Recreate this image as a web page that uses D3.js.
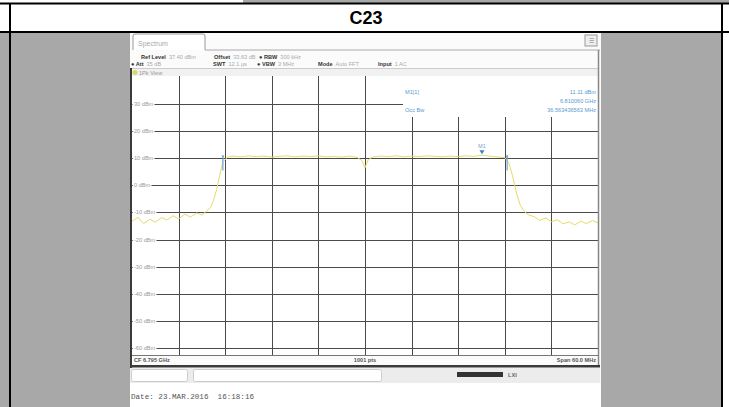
<!DOCTYPE html>
<html><head><meta charset="utf-8">
<script src="https://cdn.jsdelivr.net/npm/d3@7"></script>
<style>body{margin:0;background:#fff}svg{display:block}</style>
</head><body>
<svg id="c" width="729" height="407"></svg>
<script>
// ---- data ----
const title = "C23";
const centerGHz = 6.795;
const spanMHz = 60;
const refLevel = 37.4;
const yTickValues = [30, 20, 10, 0, -10, -20, -30, -40, -50, -60];
const yTickLabels = ["30 dBm", "20 dBm", "10 dBm", "0 dBm", "-10 dBm", "-20 dBm", "-30 dBm", "-40 dBm", "-50 dBm", "-60 dBm"];
const xGridMHz = [6, 12, 18, 24, 30, 36, 42, 48, 54];
const traceMHz = [0,0.8,1.5,2.3,3.0,3.8,4.5,5.3,6.0,6.8,7.5,8.3,9.0,9.6,10.1,10.5,10.9,11.3,11.7,12.3,13,14,15,16,17,18,19,20,21,22,23,24,25,26,27,28,29,29.6,30,30.4,31,32,33,34,35,36,37,38,39,40,41,42,43,44,45,46,47,48,48.5,49,49.5,50,50.5,51,51.8,52.5,53.3,54,54.8,55.5,56.3,57,57.8,58.5,59.3,60];
const traceDbm = [-13.2,-11.8,-14.1,-12.5,-13.6,-11.9,-12.8,-11.2,-12.4,-10.6,-11.7,-10.2,-10.9,-9.5,-8.2,-5.5,-1.5,3.8,8.6,10.4,10.8,10.5,10.9,10.6,10.8,10.4,10.7,10.9,10.5,10.8,10.6,10.9,10.5,10.7,10.4,10.8,10.3,9.2,6.5,9.4,10.5,10.8,10.6,10.9,10.5,10.8,10.6,10.9,10.7,10.5,10.8,10.6,10.9,10.7,11.1,10.8,10.5,10.2,8.4,3.5,-2.8,-7.4,-9.6,-10.8,-11.6,-12.9,-12.1,-13.4,-12.7,-14.2,-13.5,-14.6,-13.2,-14.1,-13.0,-13.8];
const markerMHz = 45.06, markerDbm = 11.11;
const obwMHz = [11.7, 48.3];
const headerRow1 = [["Ref Level", "37.40 dBm"], ["Offset", "33.63 dB"], ["\u25CF RBW", "300 kHz"]];
const headerRow2 = [["\u25CF Att", "35 dB"], ["SWT", "12.1 \u00B5s"], ["\u25CF VBW", "3 MHz"], ["Mode", "Auto FFT"], ["Input", "1 AC"]];
const markerLines = [["M1[1]", "11.11 dBm"], ["", "6.810060 GHz"], ["Occ Bw", "36.563436563 MHz"]];
const dateText = "Date: 23.MAR.2016  16:18:16";

// ---- drawing ----
const svg = d3.select("#c");
const sans = "Liberation Sans, Arial, sans-serif";

// outer table
svg.append("rect").attr("x", 243).attr("y", 0).attr("width", 486).attr("height", 3).attr("fill", "#a8a8a8");
svg.append("rect").attr("x", 0).attr("y", 33).attr("width", 722).attr("height", 374).attr("fill", "#a8a8a8");
svg.append("rect").attr("x", 0).attr("y", 2.5).attr("width", 729).attr("height", 2).attr("fill", "#000");
svg.append("rect").attr("x", 0).attr("y", 31).attr("width", 729).attr("height", 2).attr("fill", "#000");
svg.append("rect").attr("x", 9).attr("y", 3).attr("width", 2).attr("height", 404).attr("fill", "#000");
svg.append("rect").attr("x", 721).attr("y", 3).attr("width", 2).attr("height", 404).attr("fill", "#000");
svg.append("text").attr("x", 366).attr("y", 24).attr("text-anchor", "middle")
  .attr("font-family", sans).attr("font-weight", "bold").attr("font-size", 18).text(title);

// screenshot
const S = svg.append("g");
S.append("rect").attr("x", 130).attr("y", 33).attr("width", 471).attr("height", 374).attr("fill", "#fbfbfb");
// tab
S.append("path").attr("d", "M133,50 V36 Q133,34 135,34 H203 Q205,34 205,36 V50").attr("fill", "#fff").attr("stroke", "#999");
S.append("text").attr("x", 138).attr("y", 46).attr("font-family", sans).attr("font-size", 7).attr("fill", "#aaa").text("Spectrum");
S.append("line").attr("x1", 205).attr("x2", 600).attr("y1", 50).attr("y2", 50).attr("stroke", "#aaa");
S.append("rect").attr("x", 585).attr("y", 35).attr("width", 12).attr("height", 11).attr("fill", "#eee").attr("stroke", "#999");
S.append("text").attr("x", 591).attr("y", 43).attr("text-anchor", "middle").attr("font-family", sans).attr("font-size", 6).attr("fill", "#777").text("\u2630");

function headerRow(items, xs, y) {
  items.forEach((it, i) => {
    const t = S.append("text").attr("x", xs[i]).attr("y", y).attr("font-family", sans).attr("font-size", 5.6);
    t.append("tspan").attr("font-weight", "bold").attr("fill", "#333").text(it[0]);
    t.append("tspan").attr("fill", "#aaa").attr("dx", 3).text(it[1]);
  });
}
headerRow(headerRow1, [141, 214, 259], 59);
headerRow(headerRow2, [131, 213, 257, 318, 378], 66);
S.append("line").attr("x1", 131).attr("x2", 599).attr("y1", 68.5).attr("y2", 68.5).attr("stroke", "#ccc");
S.append("rect").attr("x", 132).attr("y", 69).attr("width", 466).attr("height", 7).attr("fill", "#f1f1f1");
S.append("circle").attr("cx", 135).attr("cy", 72.5).attr("r", 2.5).attr("fill", "#d8d870");
S.append("text").attr("x", 139).attr("y", 74.5).attr("font-family", sans).attr("font-size", 5.6).attr("fill", "#999").text("1Pk View");

// plot
const x0 = 132, x1 = 598, yBot = 355, gridTop = 76;
const x = d3.scaleLinear().domain([0, spanMHz]).range([x0, x1]);
const y = d3.scaleLinear().domain([refLevel - 100, refLevel]).range([yBot, 84]);
const P = S.append("g");
P.append("rect").attr("x", x0).attr("y", gridTop).attr("width", x1 - x0).attr("height", yBot - gridTop).attr("fill", "#fff");
const boxX = 403, boxBottom = 117;
// horizontal grid
P.selectAll("line.h").data(yTickValues).join("line")
  .attr("x1", x0).attr("x2", d => y(d) < boxBottom ? boxX : x1)
  .attr("y1", d => Math.round(y(d)) + 0.5).attr("y2", d => Math.round(y(d)) + 0.5)
  .attr("stroke", "#4a4a4a").attr("stroke-width", 1);
// vertical grid
P.selectAll("line.v").data(xGridMHz).join("line")
  .attr("x1", d => Math.round(x(d)) + 0.5).attr("x2", d => Math.round(x(d)) + 0.5)
  .attr("y1", d => x(d) > boxX ? boxBottom : gridTop).attr("y2", yBot)
  .attr("stroke", "#4a4a4a").attr("stroke-width", 1);
// y labels
P.selectAll("text.yl").data(yTickValues).join("text")
  .attr("x", 134).attr("y", d => y(d) + 2)
  .attr("font-family", sans).attr("font-size", 5.6).attr("fill", "#999")
  .attr("stroke", "#fff").attr("stroke-width", 3).attr("paint-order", "stroke")
  .text((d, i) => yTickLabels[i]);
// trace
const pts = traceMHz.map((f, i) => [f, traceDbm[i]]);
P.append("path").datum(pts)
  .attr("d", d3.line().x(d => x(d[0])).y(d => y(d[1])))
  .attr("fill", "none").attr("stroke", "#e4dc66").attr("stroke-width", 1);
// OBW markers
obwMHz.forEach(f => {
  P.append("line").attr("x1", x(f)).attr("x2", x(f)).attr("y1", y(11)).attr("y2", y(5.5))
    .attr("stroke", "#6aa6d0").attr("stroke-width", 1.2);
  P.append("path").attr("d", `M${x(f) - 1.5},${y(11)} h3 l-1.5,2.5z`).attr("fill", "#6aa6d0");
});
// marker M1
P.append("path").attr("d", `M${x(markerMHz) - 2.5},${y(markerDbm) - 5} h5 l-2.5,4z`).attr("fill", "#3f7fc0");
P.append("text").attr("x", x(markerMHz)).attr("y", y(markerDbm) - 7).attr("text-anchor", "middle")
  .attr("font-family", sans).attr("font-size", 5.6).attr("fill", "#6aa6d0").text("M1");
// marker info text
markerLines.forEach((l, i) => {
  const ty = 94 + i * 9;
  if (l[0]) P.append("text").attr("x", 405).attr("y", ty).attr("font-family", sans).attr("font-size", 5.6).attr("fill", "#5a9ad0").text(l[0]);
  P.append("text").attr("x", 596).attr("y", ty).attr("text-anchor", "end").attr("font-family", sans).attr("font-size", 5.6).attr("fill", "#5a9ad0").text(l[1]);
});
// frame
S.append("rect").attr("x", 130).attr("y", 68).attr("width", 2).attr("height", 300).attr("fill", "#3a3a3a");
S.append("line").attr("x1", 598.5).attr("x2", 598.5).attr("y1", 50).attr("y2", 366).attr("stroke", "#888").attr("stroke-width", 1.5);
S.append("line").attr("x1", x0).attr("x2", x1).attr("y1", yBot + 0.5).attr("y2", yBot + 0.5).attr("stroke", "#777");
// status bar
const sb = [["CF " + centerGHz.toFixed(3) + " GHz", 134, "start"], ["1001 pts", 365, "middle"], ["Span " + spanMHz.toFixed(1) + " MHz", 596, "end"]];
sb.forEach(s => S.append("text").attr("x", s[1]).attr("y", 362).attr("text-anchor", s[2])
  .attr("font-family", sans).attr("font-size", 5.6).attr("font-weight", "bold").attr("fill", "#555").text(s[0]));
S.append("rect").attr("x", 130).attr("y", 365).attr("width", 470).attr("height", 2.5).attr("fill", "#3a3a3a");
// bottom boxes
S.append("rect").attr("x", 130).attr("y", 368).attr("width", 470).attr("height", 15).attr("fill", "#ececec");
S.append("rect").attr("x", 131.5).attr("y", 369.5).attr("width", 56).attr("height", 12).attr("rx", 2).attr("fill", "#fff").attr("stroke", "#ccc");
S.append("rect").attr("x", 193.5).attr("y", 369.5).attr("width", 188).attr("height", 12).attr("rx", 2).attr("fill", "#fff").attr("stroke", "#ccc");
S.append("rect").attr("x", 457).attr("y", 372).attr("width", 46).attr("height", 5).attr("fill", "#333");
S.append("text").attr("x", 508).attr("y", 377).attr("font-family", sans).attr("font-size", 5.6).attr("font-weight", "bold").attr("fill", "#666").text("LXI");
S.append("rect").attr("x", 130).attr("y", 383).attr("width", 471).attr("height", 24).attr("fill", "#fff");
S.append("text").attr("x", 131).attr("y", 399).attr("font-family", "Liberation Mono, Courier New, monospace")
  .attr("font-size", 7.6).attr("fill", "#555").attr("xml:space", "preserve").style("white-space", "pre").text(dateText);
</script>
</body></html>
